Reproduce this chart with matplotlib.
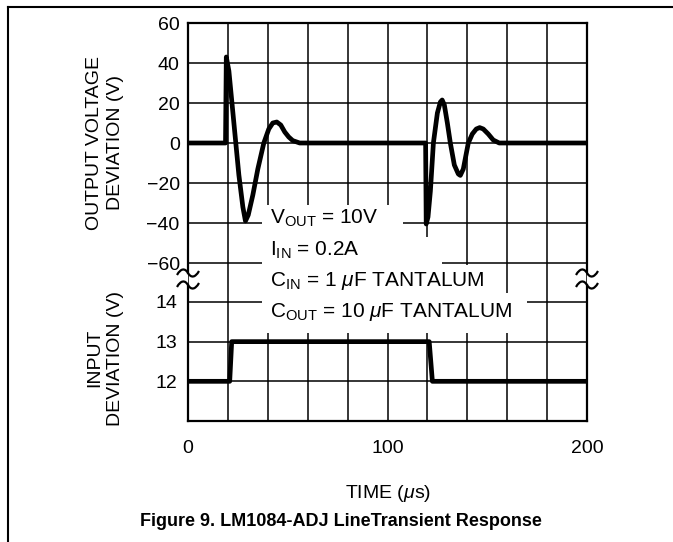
import matplotlib
matplotlib.use('Agg')
import matplotlib.pyplot as plt
from matplotlib.patches import Rectangle, PathPatch
from matplotlib.path import Path
from matplotlib.lines import Line2D

plt.rcParams['font.family'] = ['Liberation Sans', 'DejaVu Sans']
plt.rcParams['mathtext.fontset'] = 'custom'
plt.rcParams['mathtext.rm'] = 'Liberation Sans'
plt.rcParams['mathtext.it'] = 'Liberation Sans:italic'

# output voltage deviation (V)
t_out = [0, 18.8, 19.2, 20.5, 23, 25.5, 27.5, 28.8, 30.2, 32.5, 35, 38,
         40.5, 42.5, 44.5, 46.5, 48.5, 50.5, 52.5, 56, 119.1, 119.4, 120.3,
         121.5, 123, 125, 126.5, 127.4, 128.5, 130, 131.5, 133.5, 135.5,
         136.5, 138, 140.5, 142.5, 144.5, 146.2, 148, 150.5, 153, 156, 200]
v_out = [0, 0, 43, 36, 10, -16, -32, -39, -36, -26, -13, 0,
         7, 10, 10.5, 9, 5.5, 3, 1.2, 0, 0, -40.5, -37,
         -24, 0, 15, 20.5, 21.5, 19, 10, 0, -11, -15.5,
         -16.2, -13, 0, 4.5, 7, 7.7, 7, 4.5, 1.5, 0, 0]

# input voltage (V)
t_in = [0, 20.9, 21.9, 120.9, 122.5, 200]
v_in = [12, 12, 13, 13, 12, 12]

out_ticks = [-60, -40, -20, 0, 20, 40, 60]
in_ticks = [12, 13, 14]
time_ticks = list(range(0, 201, 20))
time_labels = ['0', '', '', '', '', '100', '', '', '', '', '200']

notes = [r'V$_{\mathrm{OUT}}$ = 10V',
         r'I$_{\mathrm{IN}}$ = 0.2A',
         r'C$_{\mathrm{IN}}$ = 1 $\mu$F TANTALUM',
         r'C$_{\mathrm{OUT}}$ = 10 $\mu$F TANTALUM']

W, H = 673, 542


def fxy(px, py):
    return px / W, 1 - py / H


fig = plt.figure(figsize=(W / 100, H / 100), dpi=100)
ax_out = fig.add_axes([188 / W, 1 - 273 / H, 399 / W, 250 / H])
ax_in = fig.add_axes([188 / W, 1 - 421 / H, 399 / W, 148 / H])

for ax in (ax_out, ax_in):
    ax.set_xlim(0, 200)
    ax.set_xticks(time_ticks)
    ax.grid(True, color='black', linewidth=1.1)
    ax.tick_params(length=0, labelsize=14)
    for s in ax.spines.values():
        s.set_linewidth(1.6)

ax_out.set_ylim(-65, 60)
ax_out.set_yticks(out_ticks)
ax_out.set_yticklabels([str(v).replace('-', '\u2212') for v in out_ticks])
ax_out.tick_params(axis='y', pad=6)
ax_out.set_xticklabels([])
ax_out.spines['bottom'].set_visible(False)
ax_out.plot(t_out, v_out, color='black', linewidth=3.4, solid_joinstyle='round')

ax_in.set_ylim(11, 14.73)
ax_in.set_yticks(in_ticks)
ax_in.tick_params(axis='y', pad=8)
ax_in.tick_params(axis='x', pad=14)
ax_in.set_xticklabels(time_labels)
ax_in.spines['top'].set_visible(False)
ax_in.spines['left'].set_bounds(11, 14.43)
ax_in.spines['right'].set_bounds(11, 14.43)
ax_in.plot(t_in, v_in, color='black', linewidth=3.4, solid_joinstyle='round')

# axis break marks
for x0 in (188, 587):
    for y0 in (273, 285):
        pts = [(x0 - 11, y0 + 2), (x0 - 7, y0 - 5), (x0 - 3, y0 - 5), (x0, y0),
               (x0 + 3, y0 + 5), (x0 + 7, y0 + 5), (x0 + 11, y0 - 2)]
        codes = [Path.MOVETO] + [Path.CURVE4] * 6
        fig.add_artist(PathPatch(Path([fxy(*p) for p in pts], codes),
                                 transform=fig.transFigure, fill=False,
                                 linewidth=1.6, edgecolor='black'))

# white area behind the conditions block
for x0, y0, x1, y1 in [(262, 205, 403, 237), (262, 237, 442, 265),
                       (262, 265, 497, 293), (262, 293, 527, 333)]:
    fig.add_artist(Rectangle(fxy(x0, y1), (x1 - x0) / W, (y1 - y0) / H,
                             transform=fig.transFigure, facecolor='white',
                             edgecolor='none', zorder=1))
for txt, y in zip(notes, [218, 250, 281, 312]):
    fig.text(*fxy(270, y), txt, fontsize=15, ha='left', va='center', zorder=3)

fig.text(*fxy(105, 143), 'OUTPUT VOLTAGE\nDEVIATION (V)', rotation=90,
         fontsize=14, ha='center', va='center', linespacing=1.25)
fig.text(*fxy(105, 358), 'INPUT\nDEVIATION (V)', rotation=90,
         fontsize=14, ha='center', va='center', linespacing=1.25)
fig.text(*fxy(388, 493), r'TIME ($\mu$s)', fontsize=14, ha='center', va='center')
fig.text(*fxy(341, 522), 'Figure 9. LM1084-ADJ LineTransient Response',
         fontsize=13, fontweight='bold', ha='center', va='center')

# page frame
fig.add_artist(Line2D([8 / W, 8 / W], [0, 1 - 7 / H], color='black', linewidth=1.5))
fig.add_artist(Line2D([8 / W, 1], [1 - 7 / H, 1 - 7 / H], color='black', linewidth=1.5))

fig.savefig('out.png', dpi=100)
